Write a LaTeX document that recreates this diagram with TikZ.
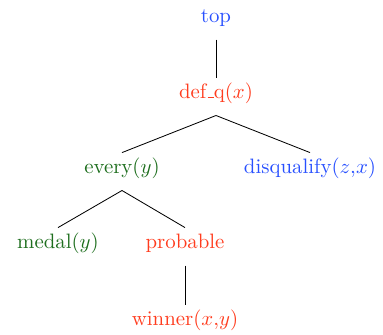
\documentclass[tikz,border=0pt]{standalone}
\usepackage{amsmath,amsfonts}

\definecolor{predblue}{RGB}{40,80,255}
\definecolor{predred}{RGB}{255,60,30}
\definecolor{predgreen}{RGB}{30,110,30}
\newcommand{\undsc}{\leavevmode\kern.06em\vbox{\hrule width.3em}}

\begin{document}
\begin{tikzpicture}[x=0.48pt,y=-0.48pt,
	lab/.style={anchor=base,inner sep=3pt,text height=6.6pt,text depth=5.2pt},
	bl/.style={lab,text=predblue},
	rd/.style={lab,text=predred},
	gr/.style={lab,text=predgreen}]
%
	\useasboundingbox (0,0) rectangle (383,334);
%
	\node[bl] (top) at (216,22) {top};
	\node[rd] (defq) at (216,98) {def\undsc q$(x)$};
	\node[gr] (every) at (122,173) {every$(y)$};
	\node[bl] (disq) at (310,173) {disqualify$(z{,}x)$};
	\node[gr] (medal) at (58,248) {medal$(y)$};
	\node[rd] (prob) at (185,248) {probable};
	\node[rd] (winner) at (185,325) {winner$(x{,}y)$};
%
	\draw (top.south) -- (defq.north);
	\draw (defq.south) -- (every.north);
	\draw (defq.south) -- (disq.north);
	\draw (every.south) -- (medal.north);
	\draw (every.south) -- (prob.north);
	\draw (prob.south) -- (winner.north);
\end{tikzpicture}
\end{document}
